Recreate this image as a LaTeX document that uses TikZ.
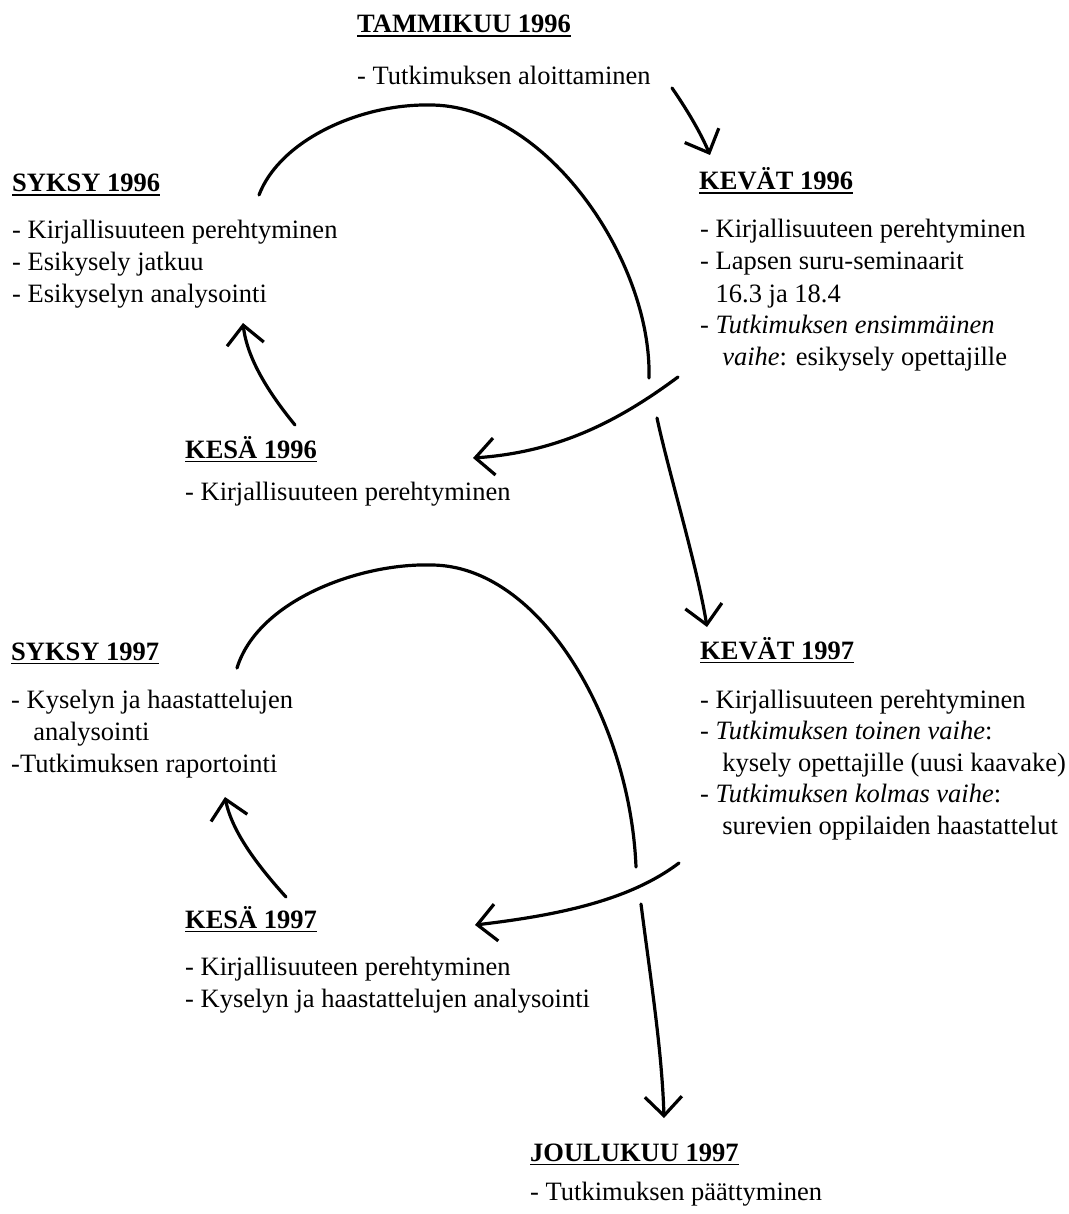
\documentclass[tikz,border=0pt]{standalone}
\usepackage{fontspec}
\setmainfont{Liberation Serif}
\usetikzlibrary{arrows.meta}
\newcommand\hdtext[1]{\setbox0\hbox{\bfseries #1}\rlap{\rule[-4pt]{\wd0}{1.5pt}}\box0}
\begin{document}
\begin{tikzpicture}[x=1pt,y=-1pt,
  font=\fontsize{26.5}{31.5}\selectfont,
  txt/.style={anchor=base west, inner sep=0pt},
  hand/.style={line width=3.2pt, line cap=round, line join=round},
  tip/.style={-{Straight Barb[length=19pt,width=37pt]}}]
\path[use as bounding box] (0,0) rectangle (1068,1214);
% ---------- texts ----------
\node[txt] (tamH) at (357,33) {\hdtext{TAMMIKUU 1996}};
\node[txt] (tam1) at (357,85) {- Tutkimuksen aloittaminen};

\node[txt] (sy6H) at (12,192) {\hdtext{SYKSY 1996}};
\node[txt] (sy6a) at (12,239) {- Kirjallisuuteen perehtyminen};
\node[txt] (sy6b) at (12,271) {- Esikysely jatkuu};
\node[txt] (sy6c) at (12,302) {- Esikyselyn analysointi};

\node[txt] (ke6H) at (699,190) {\hdtext{KEVÄT 1996}};
\node[txt] (ke6a) at (700,238) {- Kirjallisuuteen perehtyminen};
\node[txt] (ke6b) at (700,270) {- Lapsen suru-seminaarit};
\node[txt] (ke6c) at (700,302) {\phantom{- }16.3 ja 18.4};
\node[txt] (ke6d) at (700,333) {- \textit{Tutkimuksen ensimmäinen}};
\node[txt] (ke6e) at (700,365) {\phantom{- }\ \textit{vaihe}: esikysely opettajille};

\node[txt] (ks6H) at (185,458) {\hdtext{KESÄ 1996}};
\node[txt] (ks6a) at (185,500) {- Kirjallisuuteen perehtyminen};

\node[txt] (sy7H) at (11,660) {\hdtext{SYKSY 1997}};
\node[txt] (sy7a) at (11,708) {- Kyselyn ja haastattelujen};
\node[txt] (sy7b) at (11,740) {\phantom{- }\ analysointi};
\node[txt] (sy7c) at (11,772) {-Tutkimuksen raportointi};

\node[txt] (ke7H) at (700,659) {\hdtext{KEVÄT 1997}};
\node[txt] (ke7a) at (700,708) {- Kirjallisuuteen perehtyminen};
\node[txt] (ke7b) at (700,739) {- \textit{Tutkimuksen toinen vaihe}:};
\node[txt] (ke7c) at (700,771) {\phantom{- }\ kysely opettajille (uusi kaavake)};
\node[txt] (ke7d) at (700,802) {- \textit{Tutkimuksen kolmas vaihe}:};
\node[txt] (ke7e) at (700,834) {\phantom{- }\ surevien oppilaiden haastattelut};

\node[txt] (ks7H) at (185,928) {\hdtext{KESÄ 1997}};
\node[txt] (ks7a) at (185,975) {- Kirjallisuuteen perehtyminen};
\node[txt] (ks7b) at (185,1007) {- Kyselyn ja haastattelujen analysointi};

\node[txt] (jouH) at (530,1161) {\hdtext{JOULUKUU 1997}};
\node[txt] (jou1) at (530,1200) {- Tutkimuksen päättyminen};

% ---------- connector end points ----------
\coordinate (a1s) at (672,88);   \coordinate (a1e) at (710,155);
\coordinate (b1s) at (259,195);  \coordinate (b1t) at (429,105);  \coordinate (b1e) at (649,378);
\coordinate (c1s) at (678,377);  \coordinate (c1e) at (473,458);
\coordinate (d1s) at (657,418);  \coordinate (d1e) at (707,627);
\coordinate (u1s) at (295,425);  \coordinate (u1e) at (243,323);
\coordinate (b2s) at (237,668);  \coordinate (b2t) at (431,565);  \coordinate (b2e) at (636,867);
\coordinate (c2s) at (679,863);  \coordinate (c2e) at (475,925);
\coordinate (d2s) at (641,904);  \coordinate (d2e) at (664,1118);
\coordinate (u2s) at (286,897);  \coordinate (u2e) at (225,797);

% ---------- connectors ----------
\draw[hand,tip] (a1s) .. controls (690,114) and (702,136) .. (a1e);
\draw[hand] (b1s) .. controls (280,140) and (360,104) .. (b1t)
                  .. controls (545,104) and (652,260) .. (b1e);
\draw[hand,tip] (c1s) .. controls (620,420) and (560,452) .. (c1e);
\draw[hand,tip] (d1s) .. controls (668,470) and (697,565) .. (d1e);
\draw[hand,tip] (u1s) .. controls (268,392) and (247,358) .. (u1e);

\draw[hand] (b2s) .. controls (258,600) and (360,563) .. (b2t)
                  .. controls (540,565) and (630,720) .. (b2e);
\draw[hand,tip] (c2s) .. controls (630,900) and (560,915) .. (c2e);
\draw[hand,tip] (d2s) .. controls (650,975) and (662,1050) .. (d2e);
\draw[hand,tip] (u2s) .. controls (258,866) and (232,832) .. (u2e);
\end{tikzpicture}
\end{document}
